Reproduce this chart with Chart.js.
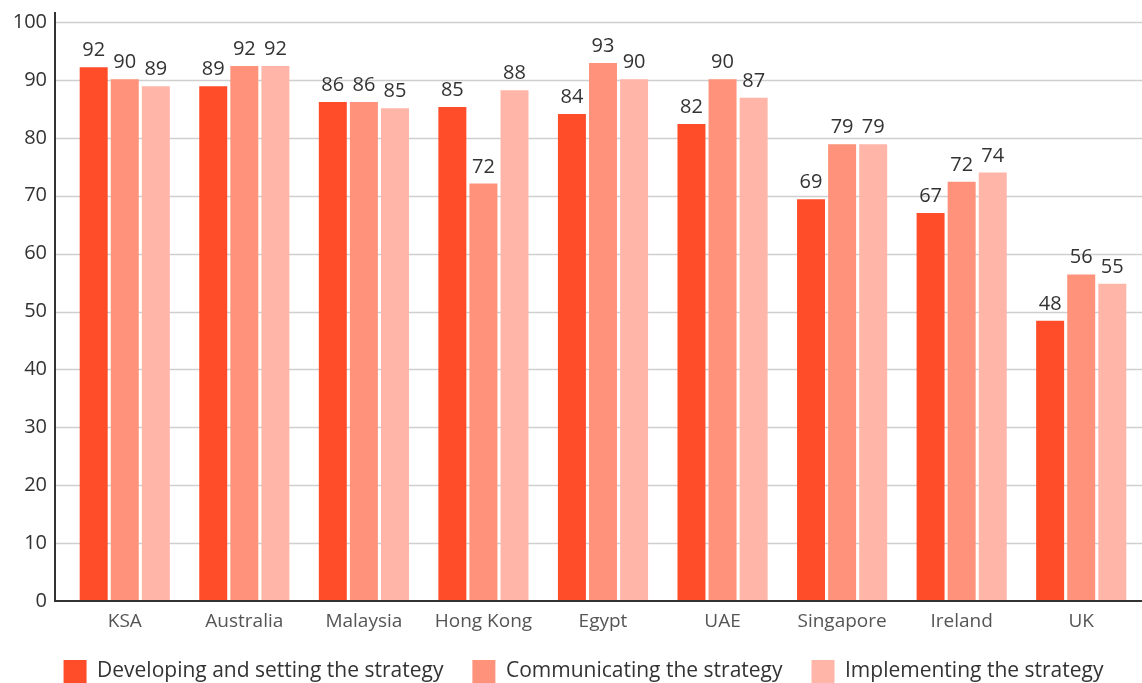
<!DOCTYPE html>
<html>
<head>
<meta charset="utf-8">
<script src="https://cdn.jsdelivr.net/npm/chart.js@4.4.1/dist/chart.umd.min.js"></script>
<style>
html,body{margin:0;padding:0;background:#fff;}
#wrap{width:1142px;height:683px;position:relative;}
</style>
</head>
<body>
<div id="wrap"><canvas id="c" width="1142" height="683"></canvas></div>
<script>
const categories = ["KSA","Australia","Malaysia","Hong Kong","Egypt","UAE","Singapore","Ireland","UK"];
const developing = [92.2, 88.9, 86.2, 85.3, 84.1, 82.4, 69.4, 67.0, 48.4];
const communicating = [90.1, 92.4, 86.2, 72.1, 92.9, 90.1, 78.9, 72.4, 56.4];
const implementing = [88.9, 92.4, 85.1, 88.2, 90.1, 86.9, 78.9, 74.0, 54.8];
const seriesNames = ["Developing and setting the strategy","Communicating the strategy","Implementing the strategy"];
const yTicks = [0,10,20,30,40,50,60,70,80,90,100];

const FONT = "'Open Sans', Lato, sans-serif";
const colors = ["#FF4C29","#FF927A","#FFB5A8"];

const axesPlugin = {
  id: 'axesPlugin',
  afterLayout(chart) {
    if (chart.legend) { chart.legend.left += 13; chart.legend.right += 13; }
  },
  beforeDatasetsDraw(chart) {
    const ctx = chart.ctx, ca = chart.chartArea, y = chart.scales.y;
    ctx.save();
    ctx.strokeStyle = '#cfcfcf';
    ctx.lineWidth = 1.5;
    yTicks.forEach(t => {
      if (t === 0) return;
      const py = Math.round(y.getPixelForValue(t)) + 0.5;
      ctx.beginPath();
      ctx.moveTo(ca.left - 10, py);
      ctx.lineTo(chart.width, py);
      ctx.stroke();
    });
    ctx.restore();
  },
  afterDatasetsDraw(chart) {
    const ctx = chart.ctx, ca = chart.chartArea, y = chart.scales.y;
    ctx.save();
    ctx.fillStyle = '#333';
    ctx.font = "20px " + FONT;
    ctx.textAlign = 'center';
    ctx.textBaseline = 'alphabetic';
    chart.data.datasets.forEach((ds, di) => {
      chart.getDatasetMeta(di).data.forEach((bar, i) => {
        ctx.fillText(String(Math.round(ds.data[i])), bar.x, bar.y - 11);
      });
    });
    ctx.strokeStyle = '#333';
    ctx.lineWidth = 2;
    const x0 = ca.left - 10;
    const yb = y.getPixelForValue(0);
    ctx.beginPath();
    ctx.moveTo(x0, ca.top - 10);
    ctx.lineTo(x0, yb);
    ctx.lineTo(chart.width, yb);
    ctx.stroke();
    ctx.restore();
  }
};

new Chart(document.getElementById('c'), {
  type: 'bar',
  data: {
    labels: categories,
    datasets: [
      {label: seriesNames[0], data: developing, backgroundColor: colors[0]},
      {label: seriesNames[1], data: communicating, backgroundColor: colors[1]},
      {label: seriesNames[2], data: implementing, backgroundColor: colors[2]}
    ]
  },
  options: {
    responsive: false,
    animation: false,
    layout: {padding: {top: 22, right: 1, left: 0, bottom: -10}},
    datasets: {bar: {categoryPercentage: 0.78, barPercentage: 0.9}},
    plugins: {
      legend: {
        position: 'bottom',
        labels: {
          boxWidth: 23, boxHeight: 23, padding: 29,
          color: '#333',
          font: {family: FONT, size: 21}
        }
      },
      tooltip: {enabled: false}
    },
    scales: {
      x: {
        grid: {display: false, drawTicks: false},
        border: {display: false},
        ticks: {color: '#555', font: {family: FONT, size: 19}, padding: 9, maxRotation: 0},
        afterFit(s) { s.height = 30; s.paddingLeft = 0; s.paddingRight = 0; }
      },
      y: {
        min: 0, max: 100,
        afterBuildTicks(s) { s.ticks = yTicks.map(v => ({value: v})); },
        grid: {display: false, drawTicks: false},
        border: {display: false},
        ticks: {color: '#333', font: {family: FONT, size: 20}, padding: 18},
        afterFit(s) { s.width = 65; s.paddingTop = 0; s.paddingBottom = 0; }
      }
    }
  },
  plugins: [axesPlugin]
});
</script>
</body>
</html>
